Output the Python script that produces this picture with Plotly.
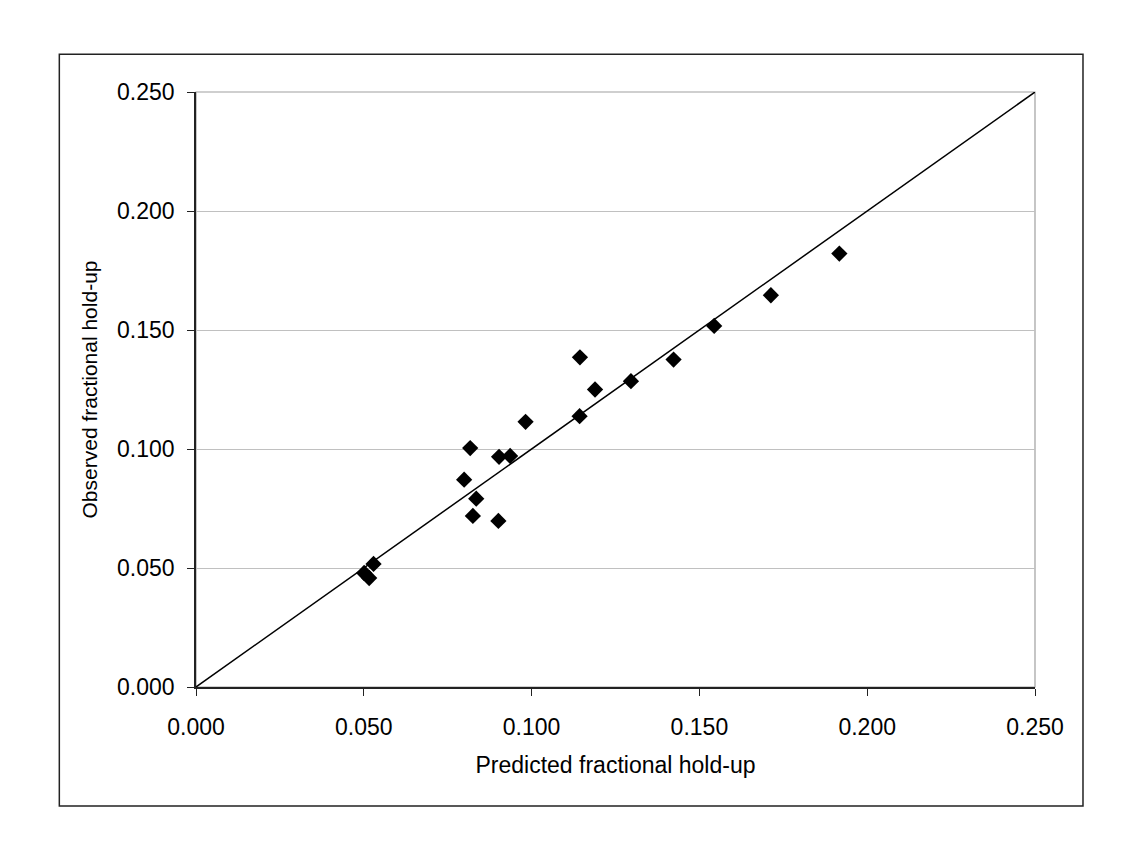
import plotly.graph_objects as go

# Data
predicted = [0.0501, 0.0516, 0.0529, 0.0799, 0.0817, 0.0825, 0.0835, 0.0901,
             0.0903, 0.0936, 0.0982, 0.1143, 0.1144, 0.1189, 0.1296, 0.1423,
             0.1544, 0.1713, 0.1917]
observed = [0.0479, 0.0458, 0.0517, 0.0871, 0.1004, 0.0719, 0.0791, 0.0698,
            0.0967, 0.0971, 0.1114, 0.1138, 0.1385, 0.1250, 0.1285, 0.1376,
            0.1517, 0.1646, 0.1821]
parity_x = [0.0, 0.25]
parity_y = [0.0, 0.25]
tick_vals = [0.0, 0.05, 0.10, 0.15, 0.20, 0.25]
tick_text = ["0.000", "0.050", "0.100", "0.150", "0.200", "0.250"]

FONT = "Liberation Sans, Arial, sans-serif"

fig = go.Figure()
fig.add_trace(go.Scatter(x=parity_x, y=parity_y, mode="lines",
                         line=dict(color="black", width=1.5),
                         hoverinfo="skip", showlegend=False))
fig.add_trace(go.Scatter(x=predicted, y=observed, mode="markers",
                         marker=dict(symbol="diamond", size=12.5, color="black",
                                     line=dict(width=0)),
                         showlegend=False))

# plot-area border (gray) and outer chart border
fig.add_shape(type="rect", xref="paper", yref="paper", x0=0, x1=1, y0=0, y1=1,
              line=dict(color="#a0a0a0", width=1.2), layer="below")
fig.add_shape(type="rect", xref="paper", yref="paper",
              x0=-0.1629, x1=1.0572, y0=-0.1999, y1=1.0633,
              line=dict(color="#222222", width=1.5))

fig.update_xaxes(range=[0, 0.25], tickvals=tick_vals, ticktext=tick_text,
                 showgrid=False, zeroline=False, showline=True,
                 linecolor="#222222", linewidth=1.5,
                 ticks="outside", ticklen=7, tickcolor="#222222", tickwidth=1.2,
                 tickfont=dict(family=FONT, size=23, color="black"),
                 ticklabelstandoff=12,
                 title=dict(text="Predicted fractional hold-up",
                            font=dict(family=FONT, size=23, color="black"),
                            standoff=18))
fig.update_yaxes(range=[0, 0.25], tickvals=tick_vals, ticktext=tick_text,
                 showgrid=True, gridcolor="#c0c0c0", gridwidth=1,
                 zeroline=False, showline=True,
                 linecolor="#222222", linewidth=1.5,
                 ticks="outside", ticklen=7, tickcolor="#222222", tickwidth=1.2,
                 tickfont=dict(family=FONT, size=23, color="black"),
                 ticklabelstandoff=8,
                 title=dict(text="Observed fractional hold-up",
                            font=dict(family=FONT, size=21, color="black"),
                            standoff=14))

fig.update_layout(width=1139, height=844,
                  margin=dict(l=196, r=104, t=92, b=157),
                  paper_bgcolor="white", plot_bgcolor="white",
                  showlegend=False)

fig.write_html("out.html")
